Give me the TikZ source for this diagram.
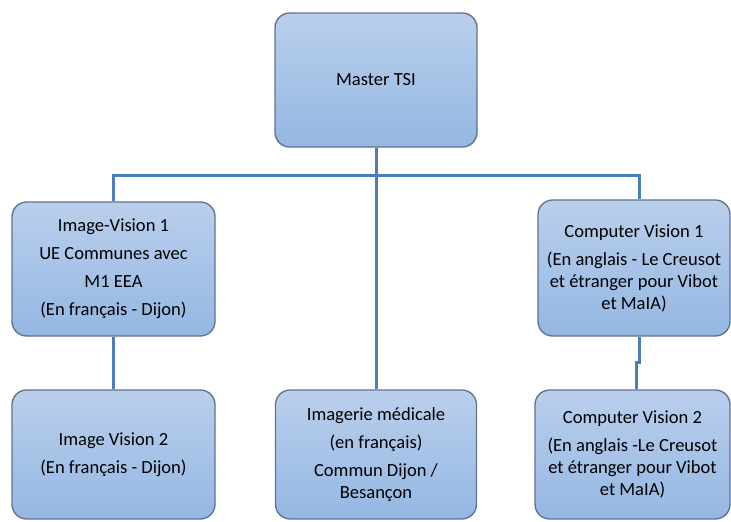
\documentclass[tikz,border=0pt]{standalone}
\usepackage{fontspec}
\setmainfont{Carlito}
\definecolor{boxtop}{RGB}{186,207,236}
\definecolor{boxbot}{RGB}{148,183,227}
\definecolor{boxline}{RGB}{95,115,142}
\definecolor{linkblue}{RGB}{74,126,187}

\tikzset{every picture/.style={line width=0.75pt}}
\tikzset{
  unit/.style={draw=boxline, line width=1pt, rounded corners=11pt, top color=boxtop, bottom color=boxbot,
    align=center, inner sep=0pt, font=\fontsize{13.9}{16.5}\selectfont},
  link/.style={draw=linkblue, line width=2.25pt}
}

\begin{document}
\begin{tikzpicture}[x=0.75pt,y=0.75pt,yscale=-1,xscale=1]
\useasboundingbox (0,0) rectangle (731,521);

%Shape: Rounded Rect [id:master]
\node [unit, minimum width=202*0.75pt, minimum height=134*0.75pt] (master) at (376,80) {Master TSI};
%Shape: Rounded Rect [id:iv1]
\node [unit, minimum width=203*0.75pt, minimum height=134*0.75pt] (iv1) at (113.5,269) {Image-Vision 1\\[4.5pt] UE Communes avec\\[4.5pt] M1 EEA\\[4.5pt] (En français - Dijon)};
%Shape: Rounded Rect [id:cv1]
\node [unit, minimum width=192*0.75pt, minimum height=136*0.75pt] (cv1) at (634,268) {Computer Vision 1\\[4.5pt] (En anglais - Le Creusot\\ et étranger pour Vibot\\ et MaIA)};
%Shape: Rounded Rect [id:iv2]
\node [unit, minimum width=203*0.75pt, minimum height=129*0.75pt] (iv2) at (113.5,454.5) {Image Vision 2\\[4.5pt] (En français - Dijon)};
%Shape: Rounded Rect [id:med]
\node [unit, minimum width=201*0.75pt, minimum height=129*0.75pt] (med) at (376,454.5) {Imagerie médicale\\[4.5pt] (en français)\\[4.5pt] Commun Dijon /\\ Besançon};
%Shape: Rounded Rect [id:cv2]
\node [unit, minimum width=195*0.75pt, minimum height=129*0.75pt] (cv2) at (632.5,454.5) {Computer Vision 2\\[4.5pt] (En anglais -Le Creusot\\ et étranger pour Vibot\\ et MaIA)};

%Connectors
\draw [link] (master.south) -- ++(0,28) coordinate (bus);
\draw [link] (iv1.north) |- (bus) -| ([xshift=3.75pt]cv1.north);
\draw [link] (bus) -- (med.north);
\draw [link] (iv1.south) -- (iv2.north);
\draw [link] ([xshift=3.75pt]cv1.south) -- ++(0,26) -| ([xshift=3pt]cv2.north);

\end{tikzpicture}
\end{document}
